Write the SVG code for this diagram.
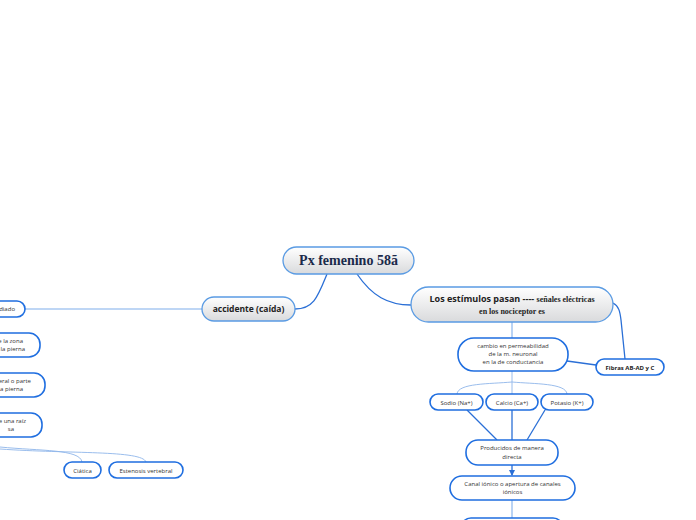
<svg xmlns="http://www.w3.org/2000/svg" width="696" height="520" viewBox="0 0 696 520">
<defs>
<linearGradient id="g" x1="0" y1="0" x2="0" y2="1">
<stop offset="0" stop-color="#ffffff"/>
<stop offset="1" stop-color="#d9dadc"/>
</linearGradient>
<marker id="arr" viewBox="0 0 6 6" refX="5" refY="3" markerWidth="5" markerHeight="5" orient="auto">
<path d="M0,0 L6,3 L0,6 z" fill="#2a6fd6"/>
</marker>
</defs>
<style>
.main{fill:url(#g);stroke:#5a9be3;stroke-width:1.3}
.sub{fill:#ffffff;stroke:#1f6ee0;stroke-width:1.6}
.t{font-family:"Open Sans","Liberation Sans",sans-serif;font-size:6px;fill:#333333}
.tb{font-family:"Open Sans","Liberation Sans",sans-serif;font-weight:bold;fill:#222222}
.sf{font-family:"Liberation Serif","DejaVu Serif",serif;font-weight:bold;fill:#222222}
.c{fill:none;stroke:#2a6fd6;stroke-width:1.3}
.cl{fill:none;stroke:#a8c8f2;stroke-width:1.6}
.ct{fill:none;stroke:#8fb6ea;stroke-width:0.9}
</style>
<g id="connectors">
<path class="c" d="M327,274 C318,296 314,309 295,309"/>
<path class="c" d="M357,274 C372,296 388,305 411,305"/>
<path class="cl" d="M202,309 L25,309"/>
<path class="ct" d="M0,447 C40,451 80,449 82,462"/>
<path class="ct" d="M0,449 C70,454 142,450 146,462"/>
<path class="cl" d="M512,322 L512,338"/>
<path class="c" d="M613,303 C619,306 620,312 621,320 L625,359"/>
<path class="c" d="M567,361 L596,365"/>
<path class="ct" d="M512,371 L512,394"/>
<path class="ct" d="M512,382 C490,384 458,383 457,394"/>
<path class="ct" d="M512,382 C534,384 566,383 567,394"/>
<path class="c" d="M467,410 L497,440"/>
<path class="c" d="M512,410 L512,440"/>
<path class="c" d="M545,410 L527,440"/>
<path class="c" d="M512,465 L512,475" marker-end="url(#arr)"/>
<path class="cl" d="M512,500 L512,518"/>
</g>
<g id="root">
<rect class="main" x="283" y="247" width="131" height="27" rx="13.5"/>
<text class="sf" x="348.5" y="265" font-size="14" text-anchor="middle" style="fill:#1b2a4a">Px femenino 58ã</text>
</g>
<g id="accidente">
<rect class="main" x="202" y="297" width="93" height="24" rx="12"/>
<text class="tb" x="248.5" y="312" font-size="8.5" text-anchor="middle">accidente (caída)</text>
</g>
<g id="estimulos">
<rect class="main" x="411" y="287" width="202" height="35" rx="17.5"/>
<text x="512" y="302" text-anchor="middle"><tspan class="tb" font-size="9">Los estímulos pasan ---- </tspan><tspan class="sf" font-size="8">señales eléctricas</tspan></text>
<text class="sf" x="512" y="314" font-size="8" text-anchor="middle">en los nociceptor es</text>
</g>
<g id="n-diado">
<rect class="sub" x="-40" y="301" width="65" height="16" rx="8"/>
<text class="t" x="15" y="311" text-anchor="end">diado</text>
</g>
<g id="n-zona">
<rect class="sub" x="-60" y="333" width="100" height="24" rx="11"/>
<text class="t" x="23" y="343" text-anchor="end">e la zona</text>
<text class="t" x="25" y="351" text-anchor="end">la pierna</text>
</g>
<g id="n-lateral">
<rect class="sub" x="-60" y="373" width="105" height="24" rx="11"/>
<text class="t" x="31" y="383" text-anchor="end">eral o parte</text>
<text class="t" x="23" y="391" text-anchor="end">a pierna</text>
</g>
<g id="n-raiz">
<rect class="sub" x="-60" y="413" width="102" height="24" rx="11"/>
<text class="t" x="26" y="423" text-anchor="end">e una raíz</text>
<text class="t" x="14" y="431" text-anchor="end">sa</text>
</g>
<g id="ciatica">
<rect class="sub" x="64" y="462" width="37" height="16" rx="8"/>
<text class="t" x="82.5" y="472.5" text-anchor="middle">Ciática</text>
</g>
<g id="estenosis">
<rect class="sub" x="109" y="462" width="74" height="16" rx="8"/>
<text class="t" x="146" y="472.5" text-anchor="middle">Estenosis vertebral</text>
</g>
<g id="cambio">
<rect class="sub" x="458" y="338" width="110" height="33" rx="16"/>
<text class="t" x="513" y="348" text-anchor="middle">cambio en permeabilidad</text>
<text class="t" x="513" y="356" text-anchor="middle">de la m. neuronal</text>
<text class="t" x="513" y="364" text-anchor="middle">en la de conductancia</text>
</g>
<g id="fibras">
<rect class="sub" x="596" y="359" width="68" height="16" rx="8"/>
<text class="tb" x="630" y="369.5" font-size="6" text-anchor="middle">Fibras AB-AD y C</text>
</g>
<g id="sodio">
<rect class="sub" x="430" y="394" width="53" height="16" rx="8"/>
<text class="t" x="456.5" y="404.5" text-anchor="middle">Sodio (Na+)</text>
</g>
<g id="calcio">
<rect class="sub" x="486" y="394" width="52" height="16" rx="8"/>
<text class="t" x="512" y="404.5" text-anchor="middle">Calcio (Ca+)</text>
</g>
<g id="potasio">
<rect class="sub" x="541" y="394" width="52" height="16" rx="8"/>
<text class="t" x="567" y="404.5" text-anchor="middle">Potasio (K+)</text>
</g>
<g id="producidos">
<rect class="sub" x="466" y="440" width="92" height="25" rx="12"/>
<text class="t" x="512" y="450" text-anchor="middle">Producidos de manera</text>
<text class="t" x="512" y="458.5" text-anchor="middle">directa</text>
</g>
<g id="canal">
<rect class="sub" x="450" y="476" width="125" height="24" rx="12"/>
<text class="t" x="512.5" y="486" text-anchor="middle">Canal iónico o apertura de canales</text>
<text class="t" x="512.5" y="494" text-anchor="middle">iónicos</text>
</g>
<g id="next">
<rect class="sub" x="461" y="518" width="102" height="20" rx="10"/>
</g>
</svg>
